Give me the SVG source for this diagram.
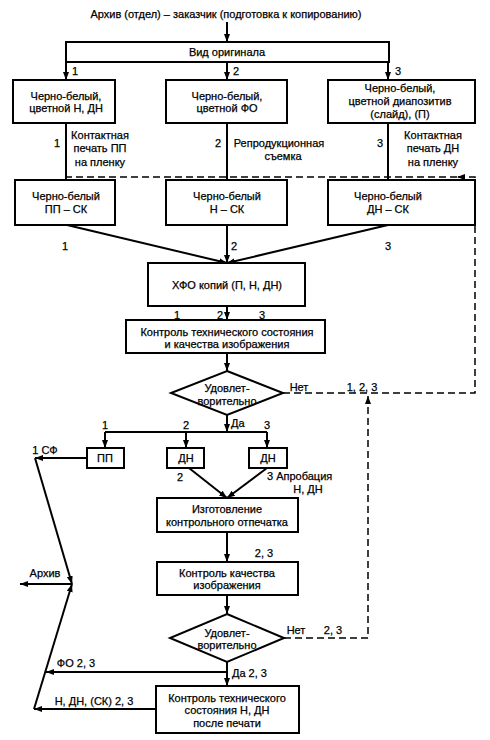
<svg xmlns="http://www.w3.org/2000/svg" width="490" height="740" viewBox="0 0 490 740">
<defs>
<marker id="ah" markerUnits="userSpaceOnUse" markerWidth="9" markerHeight="7" refX="8" refY="3" orient="auto">
<path d="M0,0 L8,3 L0,6 z" fill="#000"/>
</marker>
<style>
text{font-family:"Liberation Sans",Arial,sans-serif;font-size:11px;fill:#000;stroke:#000;stroke-width:0.25;text-anchor:middle}
.s{text-anchor:start}
.box{fill:#fff;stroke:#000;stroke-width:2}
.c{fill:none;stroke:#000;stroke-width:2}
.a{marker-end:url(#ah)}
.d{fill:none;stroke:#000;stroke-width:1.5;stroke-dasharray:7,4}
</style>
</defs>
<rect width="490" height="740" fill="#fff"/>

<g id="connectors">
<path class="c a" d="M227,22 V42"/>
<path class="c a" d="M66,62 V80"/>
<path class="c a" d="M227,62 V80"/>
<path class="c a" d="M388,62 V80"/>
<path class="c" d="M66,123 V180 M227,123 V180 M388,123 V180"/>
<path class="d a" d="M283,393 H475 V177 H457"/>
<path class="d" d="M457,177 H66"/>
<path class="c a" d="M67,225 L227,263"/>
<path class="c a" d="M227,225 V263"/>
<path class="c a" d="M388,225 L227,263"/>
<path class="c a" d="M227,306 V320"/>
<path class="c a" d="M227,353 V371"/>
<path class="c a" d="M227,415 V432"/>
<path class="c" d="M105,432 H267"/>
<path class="c a" d="M105,432 V448"/>
<path class="c a" d="M186,432 V448"/>
<path class="c a" d="M267,432 V448"/>
<path class="c a" d="M86,458 H35"/>
<path class="c a" d="M35,458 L72,584"/>
<path class="c a" d="M72,584 H20"/>
<path class="c a" d="M34,709 L72,584"/>
<path class="c a" d="M189,468 L227,498"/>
<path class="c a" d="M267,468 L227,498"/>
<path class="c a" d="M227,532 V562"/>
<path class="c a" d="M227,595 V614"/>
<path class="c a" d="M227,662 V686"/>
<path class="c a" d="M227,672 H46"/>
<path class="c a" d="M156,709 H34"/>
<path class="d a" d="M284,638 H368 V396"/>
</g>

<g id="title"><text x="226" y="18">Архив (отдел) – заказчик (подготовка к копированию)</text></g>

<g id="vid"><rect class="box" x="66" y="42" width="323" height="20"/><text x="227" y="56">Вид оригинала</text></g>
<g id="lbl-top"><text x="75" y="75">1</text><text x="236" y="75">2</text><text x="398" y="75">3</text></g>

<g id="orig1"><rect class="box" x="13" y="80" width="102" height="43"/><text x="66" y="100">Черно-белый,</text><text x="66" y="112">цветной Н, ДН</text></g>
<g id="orig2"><rect class="box" x="166" y="80" width="121" height="43"/><text x="227" y="100">Черно-белый,</text><text x="227" y="112">цветной ФО</text></g>
<g id="orig3"><rect class="box" x="328" y="80" width="147" height="43"/><text x="400" y="92">Черно-белый,</text><text x="400" y="105">цветной диапозитив</text><text x="400" y="118">(слайд), (П)</text></g>

<g id="lbl-proc">
<text x="57" y="147">1</text>
<text x="100" y="139">Контактная</text><text x="100" y="152">печать ПП</text><text x="100" y="166">на пленку</text>
<text x="218" y="147">2</text>
<text x="279" y="147">Репродукционная</text><text x="283" y="160">съемка</text>
<text x="380" y="147">3</text>
<text x="433" y="139">Контактная</text><text x="433" y="152">печать ДН</text><text x="433" y="166">на пленку</text>
</g>

<g id="sk1"><rect class="box" x="15" y="180" width="100" height="45"/><text x="66" y="200">Черно-белый</text><text x="66" y="213">ПП – СК</text></g>
<g id="sk2"><rect class="box" x="166" y="180" width="121" height="45"/><text x="227" y="200">Черно-белый</text><text x="227" y="213">Н – СК</text></g>
<g id="sk3"><rect class="box" x="328" y="180" width="147" height="45"/><text x="388" y="200">Черно-белый</text><text x="388" y="213">ДН – СК</text></g>
<g id="lbl-sk"><text x="65" y="250">1</text><text x="234" y="250">2</text><text x="388" y="250">3</text></g>

<g id="hfo"><rect class="box" x="148" y="263" width="157" height="43"/><text x="227" y="289">ХФО копий (П, Н, ДН)</text></g>
<g id="lbl-hfo"><text x="177" y="319">1</text><text x="220" y="319">2</text><text x="262" y="319">3</text></g>

<g id="control1"><rect class="box" x="126" y="320" width="199" height="33"/><text x="227" y="336">Контроль технического состояния</text><text x="227" y="348">и качества изображения</text></g>

<g id="dec1"><polygon class="box" points="227,371 283,393 227,415 171,393"/><text x="227" y="392">Удовлет-</text><text x="227" y="405">ворительно</text></g>
<g id="lbl-dec1"><text x="299" y="391">Нет</text><text x="362" y="391">1, 2, 3</text><text class="s" x="231" y="427">Да</text>
<text x="105" y="429">1</text><text x="186" y="429">2</text><text x="267" y="429">3</text></g>

<g id="pp"><rect class="box" x="87" y="448" width="37" height="20"/><text x="105" y="462">ПП</text></g>
<g id="dn2"><rect class="box" x="167" y="448" width="37" height="20"/><text x="186" y="462">ДН</text></g>
<g id="dn3"><rect class="box" x="249" y="448" width="38" height="20"/><text x="268" y="462">ДН</text></g>
<g id="lbl-pp"><text x="45" y="454">1 СФ</text><text x="180" y="481">2</text><text class="s" x="267" y="480">3 Апробация</text><text x="308" y="493">Н, ДН</text></g>

<g id="print"><rect class="box" x="157" y="498" width="141" height="34"/><text x="227" y="513">Изготовление</text><text x="227" y="526">контрольного отпечатка</text></g>
<g id="lbl-print"><text x="264" y="557">2, 3</text></g>

<g id="control2"><rect class="box" x="157" y="562" width="141" height="33"/><text x="227" y="577">Контроль качества</text><text x="227" y="589">изображения</text></g>
<g id="archive"><text x="45" y="577">Архив</text></g>

<g id="dec2"><polygon class="box" points="227,614 284,638 227,662 170,638"/><text x="227" y="637">Удовлет-</text><text x="227" y="649">ворительно</text></g>
<g id="lbl-dec2"><text x="296" y="634">Нет</text><text x="333" y="634">2, 3</text><text class="s" x="232" y="677">Да 2, 3</text>
<text x="76" y="667">ФО 2, 3</text><text x="94" y="705">Н, ДН, (СК) 2, 3</text></g>

<g id="control3"><rect class="box" x="156" y="686" width="143" height="47"/><text x="227" y="702">Контроль технического</text><text x="227" y="714">состояния Н, ДН</text><text x="227" y="727">после печати</text></g>
</svg>
